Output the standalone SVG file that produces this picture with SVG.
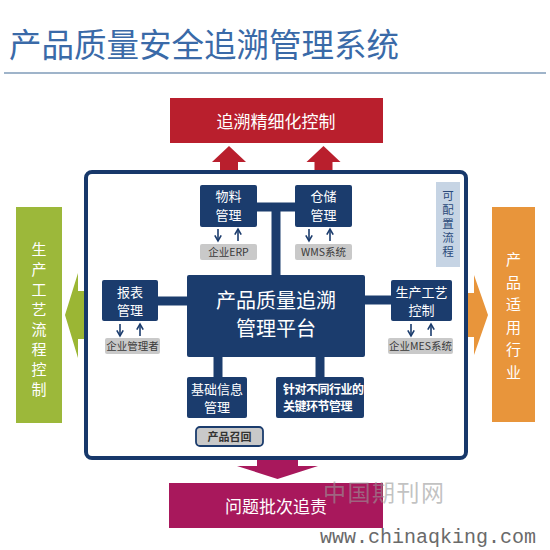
<svg xmlns="http://www.w3.org/2000/svg" width="550" height="550" viewBox="0 0 550 550">
<style>
text{font-family:"Noto Sans CJK SC","Noto Sans",sans-serif}
.node{fill:#1b3c6d}
.nt{fill:#fff;font-size:13px;text-anchor:middle}
.tag{fill:#c9c9c9}
.tt{fill:#3a3a3a;font-size:10.5px;text-anchor:middle}
.bar{stroke:#1b3c6d;stroke-width:9;fill:none}
.sa{stroke:#1b3c6d;stroke-width:1.6;fill:none;marker-end:url(#ah)}
.vt{fill:#fff;font-size:15px;text-anchor:middle}
</style>
<defs>
<marker id="ah" viewBox="0 0 10 10" refX="8" refY="5" markerWidth="5" markerHeight="5" orient="auto">
<path d="M1,1 L8,5 L1,9" fill="none" stroke="#1b3c6d" stroke-width="2"/>
</marker>
</defs>
<rect width="550" height="550" fill="#fff"/>
<g id="title">
<text x="9" y="57" font-size="32.5" fill="#3a6aa8">产品质量安全追溯管理系统</text>
<line x1="4" y1="73" x2="546" y2="73" stroke="#7f9bb8" stroke-width="1.5"/>
</g>
<g id="top-target">
<rect x="170" y="98" width="213" height="45" fill="#b91f2d"/>
<text x="276" y="128" font-size="17" fill="#fff" text-anchor="middle">追溯精细化控制</text>
</g>
<g id="red-arrows" fill="#b91f2d">
<polygon points="229,146 246,162 238,162 238,173 220,173 220,162 212,162"/>
<polygon points="323.5,146 340.5,162 332.5,162 332.5,173 314.5,173 314.5,162 306.5,162"/>
</g>
<g id="bottom-arrow" fill="#a8185c">
<polygon points="257,457 298,457 298,466 318,466 277.5,479 237,466 257,466"/>
</g>
<g id="left-arrow" fill="#9bb634">
<polygon points="65,315 78,273 78,291 87,291 87,339 78,339 78,358"/>
</g>
<g id="right-arrow" fill="#e8953b">
<polygon points="465,293 474,293 474,275 488,315 474,355 474,337 465,337"/>
</g>
<g id="frame">
<rect x="86" y="172" width="380" height="286" rx="6" fill="none" stroke="#17386a" stroke-width="4"/>
</g>
<g id="connectors">
<line class="bar" x1="257" y1="207" x2="295" y2="207"/>
<line class="bar" x1="276" y1="203" x2="276" y2="276"/>
<line class="bar" x1="157" y1="301" x2="188" y2="301"/>
<line class="bar" x1="364" y1="300" x2="392" y2="300"/>
<line class="bar" x1="218" y1="356" x2="218" y2="378"/>
<line class="bar" x1="320" y1="356" x2="320" y2="378"/>
<line class="sa" x1="218" y1="229" x2="218" y2="241"/>
<line class="sa" x1="238" y1="241" x2="238" y2="229"/>
<line class="sa" x1="309" y1="229" x2="309" y2="241"/>
<line class="sa" x1="330" y1="241" x2="330" y2="229"/>
<line class="sa" x1="120" y1="324" x2="120" y2="336"/>
<line class="sa" x1="140" y1="336" x2="140" y2="324"/>
<line class="sa" x1="411" y1="324" x2="411" y2="336"/>
<line class="sa" x1="431" y1="336" x2="431" y2="324"/>
</g>
<g id="wuliao">
<rect class="node" x="200" y="185" width="57" height="42" rx="2"/>
<text class="nt" x="228.5" y="201">物料</text>
<text class="nt" x="228.5" y="220">管理</text>
</g>
<g id="erp">
<rect class="tag" x="200" y="244" width="57" height="16" rx="2"/>
<text class="tt" x="228.5" y="256">企业ERP</text>
</g>
<g id="cangchu">
<rect class="node" x="295" y="185" width="57" height="42" rx="2"/>
<text class="nt" x="323.5" y="201">仓储</text>
<text class="nt" x="323.5" y="220">管理</text>
</g>
<g id="wms">
<rect class="tag" x="295" y="244" width="57" height="16" rx="2"/>
<text class="tt" x="323.5" y="256">WMS系统</text>
</g>
<g id="peizhi">
<rect x="436" y="182" width="24" height="85" fill="#c6d4e4"/>
<text x="448" y="190" fill="#2a4a7a" font-size="11.5" letter-spacing="2.5" style="writing-mode:vertical-rl">可配置流程</text>
</g>
<g id="platform">
<rect class="node" x="187" y="275" width="178" height="82" rx="2"/>
<text x="276" y="308" font-size="20" fill="#fff" text-anchor="middle">产品质量追溯</text>
<text x="276" y="336" font-size="20" fill="#fff" text-anchor="middle">管理平台</text>
</g>
<g id="baobiao">
<rect class="node" x="102" y="280" width="56" height="41" rx="2"/>
<text class="nt" x="130" y="297">报表</text>
<text class="nt" x="130" y="315">管理</text>
</g>
<g id="guanlizhe">
<rect class="tag" x="105" y="338" width="55" height="16" rx="2"/>
<text class="tt" x="132.5" y="350">企业管理者</text>
</g>
<g id="shengchan">
<rect class="node" x="391" y="280" width="61" height="41" rx="2"/>
<text class="nt" x="421.5" y="297">生产工艺</text>
<text class="nt" x="421.5" y="315">控制</text>
</g>
<g id="mes">
<rect class="tag" x="388" y="338" width="65" height="16" rx="2"/>
<text class="tt" x="420.5" y="350">企业MES系统</text>
</g>
<g id="jichu">
<rect class="node" x="187" y="377" width="60" height="41" rx="2"/>
<text class="nt" x="217" y="394">基础信息</text>
<text class="nt" x="217" y="412">管理</text>
</g>
<g id="zhendui">
<rect class="node" x="276" y="377" width="88" height="41" rx="2"/>
<text x="283" y="394" font-size="12" font-weight="bold" fill="#fff" letter-spacing="-0.5">针对不同行业的</text>
<text x="283" y="411" font-size="12" font-weight="bold" fill="#fff" letter-spacing="-0.5">关键环节管理</text>
</g>
<g id="zhaohui">
<rect x="196" y="427" width="67" height="19" rx="4" fill="#c9c9c9" stroke="#1b3c6d" stroke-width="1.8"/>
<text x="229.5" y="441" font-size="11" font-weight="bold" fill="#333" text-anchor="middle">产品召回</text>
</g>
<g id="left-box">
<rect x="16" y="207" width="46" height="216" fill="#9cb83a"/>
<text class="vt">
<tspan x="39" y="255">生</tspan><tspan x="39" y="275">产</tspan><tspan x="39" y="295">工</tspan><tspan x="39" y="315">艺</tspan><tspan x="39" y="335">流</tspan><tspan x="39" y="355">程</tspan><tspan x="39" y="375">控</tspan><tspan x="39" y="395">制</tspan>
</text>
</g>
<g id="right-box">
<rect x="492" y="207" width="43" height="215" fill="#e8953b"/>
<text class="vt">
<tspan x="513.5" y="265">产</tspan><tspan x="513.5" y="288">品</tspan><tspan x="513.5" y="310">适</tspan><tspan x="513.5" y="333">用</tspan><tspan x="513.5" y="355">行</tspan><tspan x="513.5" y="378">业</tspan>
</text>
</g>
<g id="bottom-target">
<rect x="169" y="483" width="214" height="45" fill="#a8185c"/>
<text x="276" y="513" font-size="17" fill="#fff" text-anchor="middle">问题批次追责</text>
</g>
<g id="watermark">
<text x="323" y="501" font-size="23" fill="#999" fill-opacity="0.6" letter-spacing="1.5">中国期刊网</text>
<text x="320" y="543" font-size="20" fill="#6a6a6a" style="font-family:'Liberation Mono',monospace">www.chinaqking.com</text>
</g>
</svg>
